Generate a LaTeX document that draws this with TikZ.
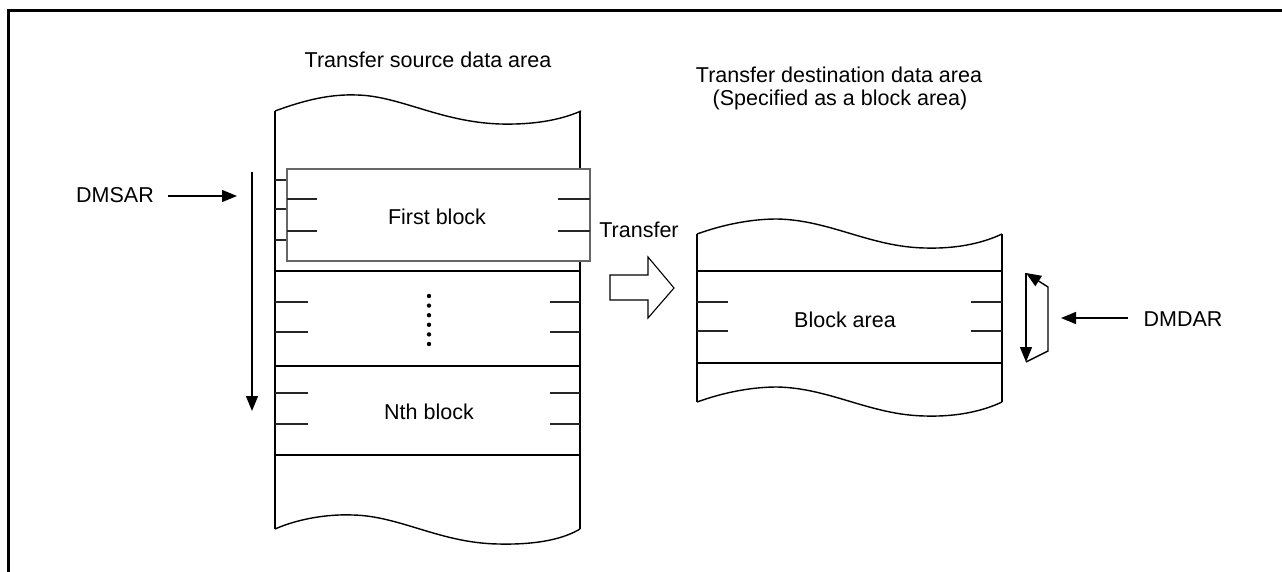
\documentclass[tikz,border=0pt]{standalone}
\usepackage{fontspec}
\setmainfont{Liberation Sans}
\usetikzlibrary{arrows.meta}
\begin{document}
\begin{tikzpicture}[x=1pt,y=-1pt,
  ln/.style={line width=1.4pt, black},
  sl/.style={line width=1.1pt, black!85},
  gl/.style={line width=1.1pt, black!60},
  lbl/.style={font=\fontsize{21.5}{25}\selectfont, inner sep=0pt},
  tip/.style={-{Triangle[length=15pt,width=12pt]}},
]
\useasboundingbox (0,0) rectangle (1282,572);
% frame
\draw[line width=3pt] (8,572) -- (8,11) -- (1282,11);

% ---------- source area ----------
\draw[ln] (275,111) .. controls (305,100) and (330,94) .. (357,95)
  .. controls (400,96) and (440,122) .. (500,124)
  .. controls (540,125) and (565,118) .. (581,111);
\draw[ln] (275,111) -- (275,529);
\draw[ln] (580,111) -- (580,529);
\draw[ln] (275,529) .. controls (300,518) and (330,514) .. (353,515)
  .. controls (400,516) and (440,543) .. (498,544)
  .. controls (540,545) and (565,538) .. (580,529);
\foreach \y in {271,366,455} \draw[ln] (275,\y) -- (580,\y);
\foreach \y in {180,209,240} \draw[sl] (275,\y) -- (287,\y);
\foreach \y in {302,332,393,424} {
  \draw[sl] (275,\y) -- (308,\y);
  \draw[sl] (550,\y) -- (580,\y);
}
% first block
\draw[gl, fill=white] (287,169) rectangle (590,261);
\foreach \y in {199,231} {
  \draw[sl] (287,\y) -- (317,\y);
  \draw[sl] (558,\y) -- (590,\y);
}
\foreach \k in {0,...,5} \fill (429,296+\k*9.6) circle (2.2pt);

\node[lbl] (srctitle) at (428,60) {Transfer source data area};
\node[lbl] (first) at (437,217) {First block};
\node[lbl] (nth) at (429,412) {Nth block};

% DMSAR
\node[lbl] (dmsar) at (115,195) {DMSAR};
\coordinate (sa1) at (168,196);
\coordinate (sa2) at (237,196);
\draw[ln, tip] (sa1) -- (sa2);
\coordinate (sv1) at (252,172);
\coordinate (sv2) at (252,411);
\draw[ln, tip] (sv1) -- (sv2);

% transfer arrow
\node[lbl] (transfer) at (639,230) {Transfer};
\draw[line width=1.1pt] (610,275) -- (648,275) -- (648,257) -- (674,288)
  -- (648,318) -- (648,300) -- (610,300) -- cycle;

% ---------- destination area ----------
\node[lbl] (dsttitle) at (839,75) {Transfer destination data area};
\node[lbl] (dstsub) at (840,100) {(Specified as a block area)};
\draw[ln] (697,234) .. controls (722,225) and (750,219) .. (777,219)
  .. controls (830,220) and (870,247) .. (925,248)
  .. controls (960,249) and (985,242) .. (1002,234);
\draw[ln] (697,234) -- (697,402);
\draw[ln] (1002,234) -- (1002,402);
\draw[ln] (697,402) .. controls (722,393) and (750,387) .. (777,387)
  .. controls (830,388) and (870,415) .. (925,416)
  .. controls (960,417) and (985,410) .. (1002,402);
\foreach \y in {271,363} \draw[ln] (697,\y) -- (1002,\y);
\foreach \y in {302,331} {
  \draw[sl] (697,\y) -- (728,\y);
  \draw[sl] (971,\y) -- (1002,\y);
}
\node[lbl] (blockarea) at (845,320) {Block area};

% DMDAR
\coordinate (d1) at (1026,273);
\coordinate (d2) at (1026,362);
\coordinate (d3) at (1048,351);
\coordinate (d4) at (1048,287);
\draw[ln, tip] (d1) -- (d2);
\draw[ln, tip] (d2) -- (d3) -- (d4) -- (d1);
\node[lbl] (dmdar) at (1183,319) {DMDAR};
\coordinate (da1) at (1128,318);
\coordinate (da2) at (1061,318);
\draw[ln, tip] (da1) -- (da2);
\end{tikzpicture}
\end{document}
